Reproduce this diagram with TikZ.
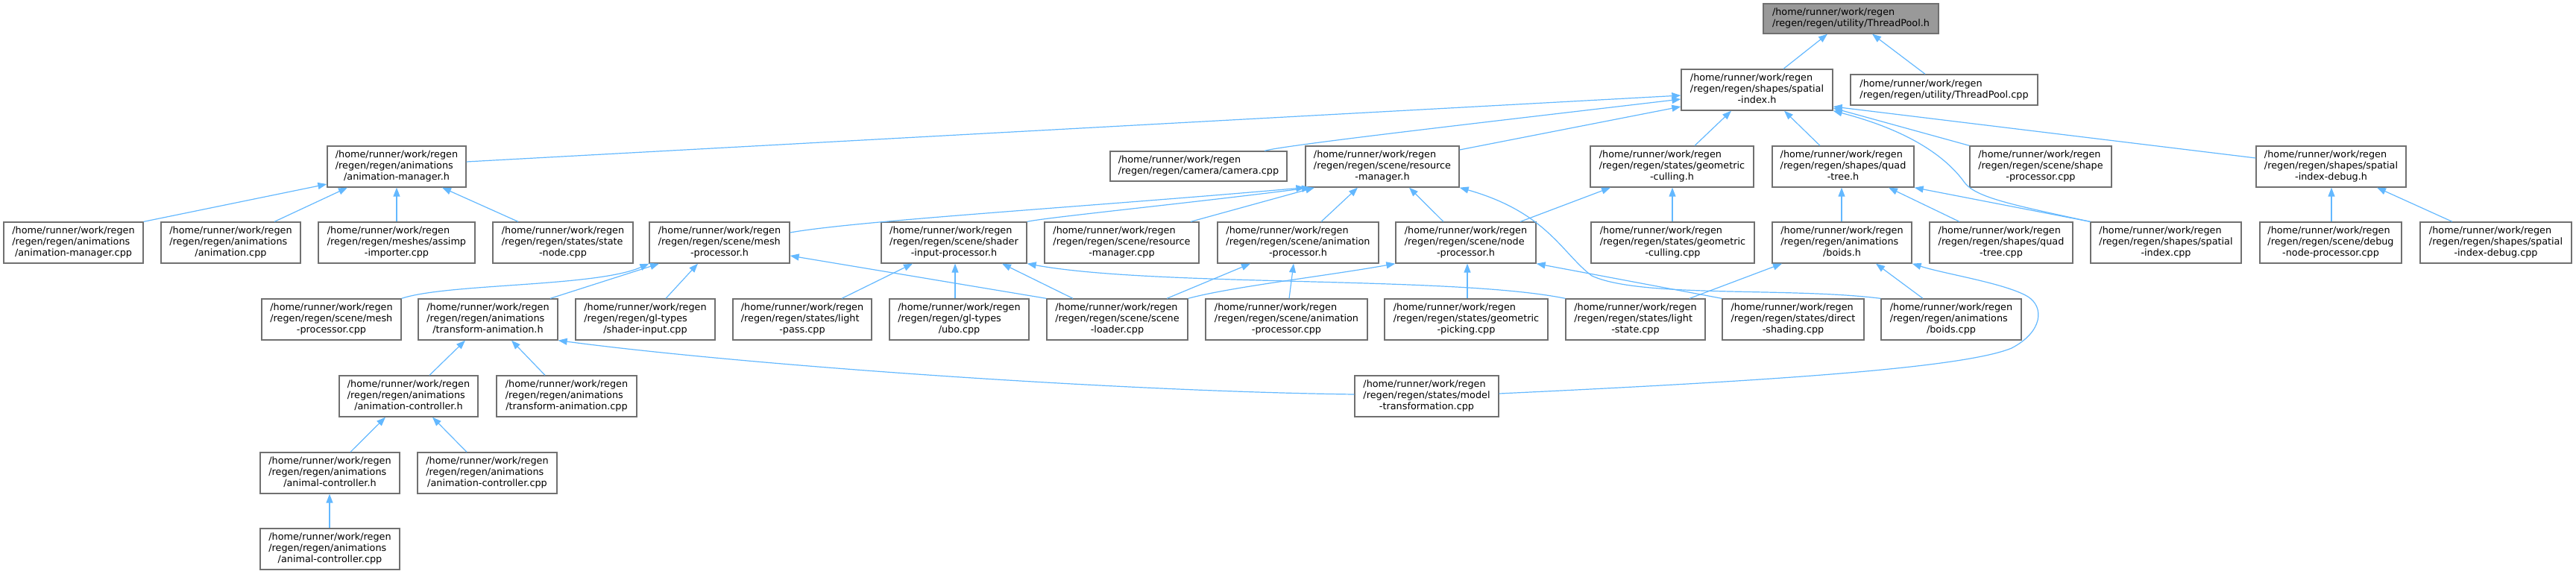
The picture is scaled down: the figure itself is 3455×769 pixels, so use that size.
\documentclass[tikz,border=0pt]{standalone}
\usepackage{fontspec}
\setmainfont{DejaVu Sans}
\usetikzlibrary{arrows.meta}
\definecolor{edgeblue}{HTML}{63B8FF}
\definecolor{boxgray}{HTML}{707070}
\definecolor{rootgray}{HTML}{999999}
\newcommand\hp{/home/runner/work/regen}
\newcommand\tthree[3]{\begin{tabular}{@{}l@{}}#1\\#2\\\multicolumn{1}{@{}c@{}}{#3}\end{tabular}}
\newcommand\ttwo[2]{\begin{tabular}{@{}l@{}}#1\\\multicolumn{1}{@{}c@{}}{#2}\end{tabular}}
\newcommand\fnode[7][fbox]{\node[#1, minimum width={(#5-#3)*1pt}, minimum height={(#6-#4)*1pt}] (#2) at ({(#3+#5)/2},{(#4+#6)/2}) {#7};}
\tikzset{
  fbox/.style={rectangle, draw=boxgray, line width=1.3pt, fill=white, inner sep=0pt, font=\fontsize{12.8}{15}\selectfont},
  rootbox/.style={fbox, fill=rootgray},
  dep/.style={draw=edgeblue, line width=1.2pt, -{Triangle[length=12pt,width=9pt]}}
}
\begin{document}
\begin{tikzpicture}[x=1pt,y=-1pt]
\useasboundingbox (0,0) rectangle (3455,769);
% row 0
\fnode[rootbox]{tp}{2365}{5}{2600}{45}{\ttwo{\hp}{/regen/regen/utility/ThreadPool.h}}
% row 1
\fnode{spi}{2255}{93}{2458}{148}{\tthree{\hp}{/regen/regen/shapes/spatial}{-index.h}}
\fnode{tpc}{2482}{100}{2733}{141}{\ttwo{\hp}{/regen/regen/utility/ThreadPool.cpp}}
% row 2
\fnode{amh}{439}{196}{625}{251}{\tthree{\hp}{/regen/regen/animations}{/animation-manager.h}}
\fnode{cam}{1489}{203}{1726}{243}{\ttwo{\hp}{/regen/regen/camera/camera.cpp}}
\fnode{rmh}{1751}{196}{1957}{251}{\tthree{\hp}{/regen/regen/scene/resource}{-manager.h}}
\fnode{gch}{2133}{196}{2352}{251}{\tthree{\hp}{/regen/regen/states/geometric}{-culling.h}}
\fnode{qth}{2377}{196}{2567}{251}{\tthree{\hp}{/regen/regen/shapes/quad}{-tree.h}}
\fnode{spc}{2642}{196}{2832}{251}{\tthree{\hp}{/regen/regen/scene/shape}{-processor.cpp}}
\fnode{sdh}{3026}{196}{3227}{251}{\tthree{\hp}{/regen/regen/shapes/spatial}{-index-debug.h}}
% row 3
\fnode{ams}{5}{298}{192}{353}{\tthree{\hp}{/regen/regen/animations}{/animation-manager.cpp}}
\fnode{ani}{216}{298}{403}{353}{\tthree{\hp}{/regen/regen/animations}{/animation.cpp}}
\fnode{asi}{427}{298}{637}{353}{\tthree{\hp}{/regen/regen/meshes/assimp}{-importer.cpp}}
\fnode{stn}{661}{298}{849}{353}{\tthree{\hp}{/regen/regen/states/state}{-node.cpp}}
\fnode{mph}{871}{298}{1059}{353}{\tthree{\hp}{/regen/regen/scene/mesh}{-processor.h}}
\fnode{sip}{1182}{298}{1377}{353}{\tthree{\hp}{/regen/regen/scene/shader}{-input-processor.h}}
\fnode{rmc}{1401}{298}{1608}{353}{\tthree{\hp}{/regen/regen/scene/resource}{-manager.cpp}}
\fnode{aph}{1633}{298}{1849}{353}{\tthree{\hp}{/regen/regen/scene/animation}{-processor.h}}
\fnode{nph}{1872}{298}{2060}{353}{\tthree{\hp}{/regen/regen/scene/node}{-processor.h}}
\fnode{gcc}{2134}{298}{2353}{353}{\tthree{\hp}{/regen/regen/states/geometric}{-culling.cpp}}
\fnode{bdh}{2377}{298}{2564}{353}{\tthree{\hp}{/regen/regen/animations}{/boids.h}}
\fnode{qtc}{2588}{298}{2780}{353}{\tthree{\hp}{/regen/regen/shapes/quad}{-tree.cpp}}
\fnode{sxc}{2804}{298}{3006}{353}{\tthree{\hp}{/regen/regen/shapes/spatial}{-index.cpp}}
\fnode{dnp}{3031}{298}{3221}{353}{\tthree{\hp}{/regen/regen/scene/debug}{-node-processor.cpp}}
\fnode{sdc}{3246}{298}{3449}{353}{\tthree{\hp}{/regen/regen/shapes/spatial}{-index-debug.cpp}}
% row 4
\fnode{mpc}{351}{401}{538}{456}{\tthree{\hp}{/regen/regen/scene/mesh}{-processor.cpp}}
\fnode{tah}{561}{401}{748}{456}{\tthree{\hp}{/regen/regen/animations}{/transform-animation.h}}
\fnode{sin}{772}{401}{959}{456}{\tthree{\hp}{/regen/regen/gl-types}{/shader-input.cpp}}
\fnode{lpc}{983}{401}{1169}{456}{\tthree{\hp}{/regen/regen/states/light}{-pass.cpp}}
\fnode{ubo}{1193}{401}{1380}{456}{\tthree{\hp}{/regen/regen/gl-types}{/ubo.cpp}}
\fnode{slc}{1404}{401}{1593}{456}{\tthree{\hp}{/regen/regen/scene/scene}{-loader.cpp}}
\fnode{apc}{1617}{401}{1834}{456}{\tthree{\hp}{/regen/regen/scene/animation}{-processor.cpp}}
\fnode{gpc}{1857}{401}{2076}{456}{\tthree{\hp}{/regen/regen/states/geometric}{-picking.cpp}}
\fnode{lsc}{2100}{401}{2287}{456}{\tthree{\hp}{/regen/regen/states/light}{-state.cpp}}
\fnode{dsc}{2310}{401}{2500}{456}{\tthree{\hp}{/regen/regen/states/direct}{-shading.cpp}}
\fnode{bdc}{2523}{401}{2711}{456}{\tthree{\hp}{/regen/regen/animations}{/boids.cpp}}
% row 5
\fnode{ach}{455}{504}{641}{559}{\tthree{\hp}{/regen/regen/animations}{/animation-controller.h}}
\fnode{tac}{666}{504}{854}{559}{\tthree{\hp}{/regen/regen/animations}{/transform-animation.cpp}}
\fnode{mtc}{1817}{504}{2010}{559}{\tthree{\hp}{/regen/regen/states/model}{-transformation.cpp}}
% row 6
\fnode{alch}{349}{607}{536}{662}{\tthree{\hp}{/regen/regen/animations}{/animal-controller.h}}
\fnode{acc}{560}{607}{747}{662}{\tthree{\hp}{/regen/regen/animations}{/animation-controller.cpp}}
% row 7
\fnode{alcc}{349}{709}{536}{764}{\tthree{\hp}{/regen/regen/animations}{/animal-controller.cpp}}

% edges (arrow at the included file)
\draw[dep] (spi.north -| 2392,0) -- (tp.south -| 2451,0);
\draw[dep] (tpc.north -| 2582,0) -- (tp.south -| 2511,0);
\draw[dep] (amh.east |- 0,217) -- (spi.west |- 0,128);
\draw[dep] (cam.north -| 1696,0) .. controls (1720,195) and (2000,163) .. (spi.west |- 0,133);
\draw[dep] (rmh.east |- 0,201) -- (spi.west |- 0,143);
\draw[dep] (gch.north -| 2273,0) -- (spi.south -| 2322,0);
\draw[dep] (qth.north -| 2441,0) -- (spi.south -| 2393,0);
\draw[dep] (spc.north west) -- (spi.east |- 0,145);
\draw[dep] (sdh.west |- 0,212) -- (spi.east |- 0,143);
\draw[dep] (sxc.north west) .. controls (2700,275) and (2650,265) .. (2635,245) .. controls (2610,210) and (2560,175) .. (spi.south east);
\draw[dep] (ams.north east) -- (amh.west |- 0,247);
\draw[dep] (ani.north -| 368,0) -- (amh.south -| 466,0);
\draw[dep] (asi.north -| 532,0) -- (amh.south -| 532,0);
\draw[dep] (stn.north -| 695,0) -- (amh.south -| 593,0);
\draw[dep] (mph.east |- 0,312) .. controls (1150,296) and (1450,278) .. (rmh.south west);
\draw[dep] (sip.north east) .. controls (1400,292) and (1600,272) .. (rmh.south -| 1758,0);
\draw[dep] (rmc.north -| 1597,0) -- (rmh.south -| 1763,0);
\draw[dep] (aph.north -| 1772,0) -- (rmh.south -| 1821,0);
\draw[dep] (nph.north -| 1936,0) -- (rmh.south -| 1890,0);
\draw[dep] (bdc.north west) .. controls (2400,385) and (2200,400) .. (2135,370) .. controls (2095,340) and (2075,285) .. (rmh.south east);
\draw[dep] (mpc.north east) .. controls (600,380) and (800,385) .. (mph.south west);
\draw[dep] (tah.north -| 738,0) -- (mph.south -| 884,0);
\draw[dep] (sin.north -| 893,0) -- (mph.south -| 936,0);
\draw[dep] (slc.north west) -- (mph.east |- 0,343);
\draw[dep] (lpc.north -| 1129,0) -- (sip.south -| 1224,0);
\draw[dep] (ubo.north -| 1281,0) -- (sip.south -| 1281,0);
\draw[dep] (slc.north -| 1439,0) -- (sip.south -| 1344,0);
\draw[dep] (lsc.north west) .. controls (1950,370) and (1550,385) .. (sip.south east);
\draw[dep] (slc.north -| 1565,0) -- (aph.south -| 1677,0);
\draw[dep] (apc.north -| 1729,0) -- (aph.south -| 1735,0);
\draw[dep] (slc.north east) .. controls (1650,385) and (1780,370) .. (nph.south west);
\draw[dep] (gpc.north -| 1968,0) -- (nph.south -| 1968,0);
\draw[dep] (dsc.north west) -- (nph.south east);
\draw[dep] (nph.north -| 2039,0) -- (gch.south -| 2160,0);
\draw[dep] (gcc.north -| 2243,0) -- (gch.south -| 2243,0);
\draw[dep] (bdh.north -| 2470,0) -- (qth.south -| 2470,0);
\draw[dep] (qtc.north -| 2628,0) -- (qth.south -| 2533,0);
\draw[dep] (sxc.north west) -- (qth.south east);
\draw[dep] (lsc.north -| 2266,0) -- (bdh.south -| 2390,0);
\draw[dep] (bdc.north -| 2579,0) -- (bdh.south -| 2516,0);
\draw[dep] (mtc.east |- 0,528) .. controls (2350,512) and (2630,495) .. (2698,467) .. controls (2740,445) and (2742,412) .. (2720,398) .. controls (2690,380) and (2610,368) .. (bdh.south east);
\draw[dep] (mtc.west |- 0,529) .. controls (1500,525) and (1000,490) .. (tah.south east);
\draw[dep] (ach.north -| 576,0) -- (tah.south -| 624,0);
\draw[dep] (tac.north -| 731,0) -- (tah.south -| 686,0);
\draw[dep] (alch.north -| 470,0) -- (ach.south -| 517,0);
\draw[dep] (acc.north -| 626,0) -- (ach.south -| 580,0);
\draw[dep] (alcc.north -| 442,0) -- (alch.south -| 442,0);
\draw[dep] (dnp.north -| 3127,0) -- (sdh.south -| 3127,0);
\draw[dep] (sdc.north -| 3289,0) -- (sdh.south -| 3188,0);
\end{tikzpicture}
\end{document}
